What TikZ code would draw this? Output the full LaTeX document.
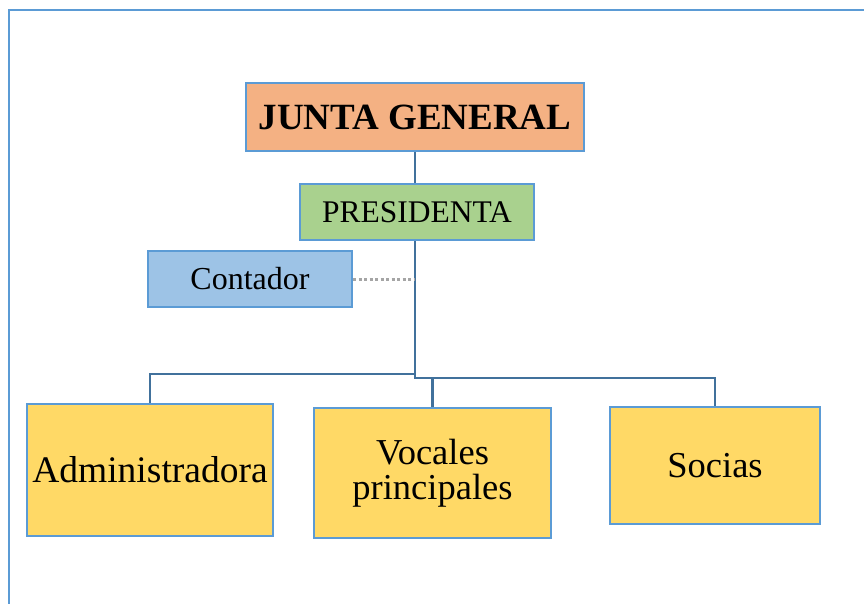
\documentclass[tikz,border=0pt]{standalone}
\usepackage{fontspec}
\setmainfont{Liberation Serif}
\usetikzlibrary{backgrounds}
\definecolor{bord}{HTML}{5B9BD5}
\definecolor{conncol}{HTML}{41719C}
\definecolor{jgfill}{HTML}{F4B183}
\definecolor{prfill}{HTML}{A9D18E}
\definecolor{cofill}{HTML}{9DC3E6}
\definecolor{yfill}{HTML}{FFD966}
\definecolor{dotcol}{HTML}{A5A5A5}
\tikzset{
  box/.style={draw=bord, line width=2.4pt, inner sep=0pt, align=center, text=black},
  conn/.style={draw=conncol, line width=2.4pt},
  dotconn/.style={draw=dotcol, line width=3pt, dash pattern=on 3pt off 2.5pt},
  frame/.style={draw=bord, line width=2pt}
}
\begin{document}
\begin{tikzpicture}[x=1pt,y=-1pt]
\useasboundingbox (0,0) rectangle (864,604);
\draw[frame] (9,610) -- (9,10.5) -- (870,10.5);
\node[box, fill=jgfill, minimum width=338pt, minimum height=68pt, font=\fontsize{37}{40}\selectfont\bfseries] (jg) at (415,117) {JUNTA GENERAL};
\node[box, fill=prfill, minimum width=234pt, minimum height=56pt, font=\fontsize{31.5}{34}\selectfont] (pr) at (417,212) {PRESIDENTA};
\node[box, fill=cofill, minimum width=204pt, minimum height=56pt, font=\fontsize{32}{34}\selectfont] (co) at (250,279) {Contador};
\node[box, fill=yfill, minimum width=246pt, minimum height=132pt, font=\fontsize{37.5}{40}\selectfont] (ad) at (150,470) {Administradora};
\node[box, fill=yfill, minimum width=237pt, minimum height=130pt, font=\fontsize{36.5}{35}\selectfont] (vo) at (432.5,473) {Vocales\\principales};
\node[box, fill=yfill, minimum width=210pt, minimum height=117pt, font=\fontsize{36.5}{40}\selectfont] (so) at (715,465.5) {Socias};
\coordinate (hub) at (415,378);
\coordinate (hubL) at (415,374);
\begin{pgfonlayer}{background}
\draw[conn] (jg.south) -- (hub) -| (so.north);
\draw[conn] (hubL) -| (ad.north);
\draw[conn] (vo.north) -- (vo.north |- hub);
\draw[dotconn] (co.east) -- (co.east -| hub);
\end{pgfonlayer}
\end{tikzpicture}
\end{document}
